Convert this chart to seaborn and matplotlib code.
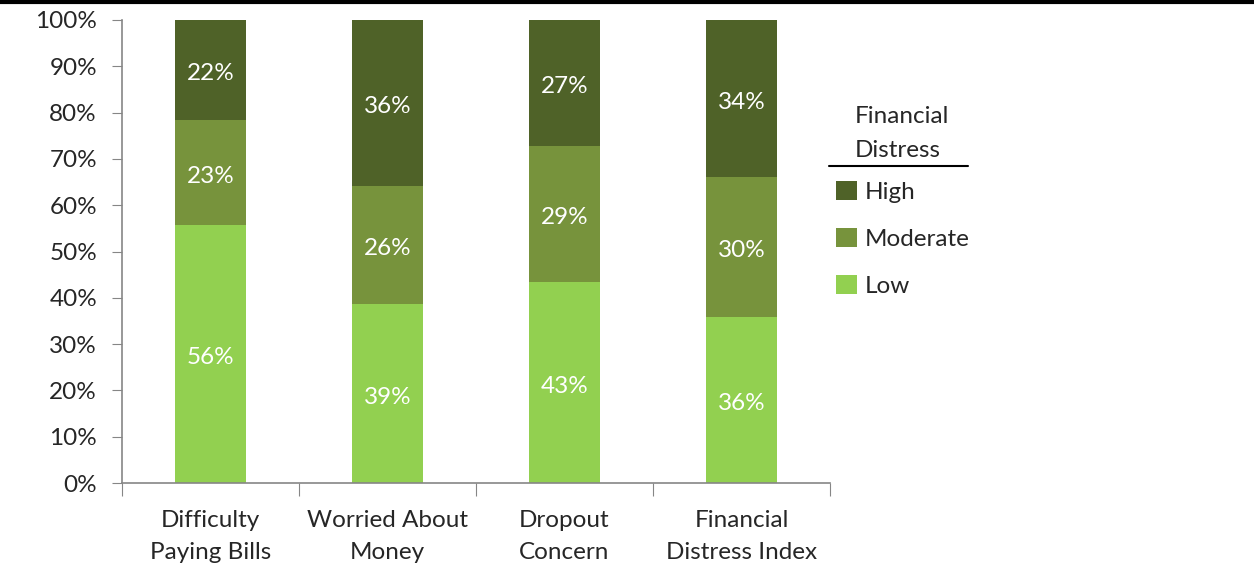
import matplotlib
matplotlib.use("Agg")
import matplotlib.pyplot as plt
from matplotlib.patches import Patch
from matplotlib.lines import Line2D
import seaborn as sns
import numpy as np
import pandas as pd

categories = ["Difficulty\nPaying Bills", "Worried About\nMoney", "Dropout\nConcern", "Financial\nDistress Index"]
low = [55.7, 38.6, 43.4, 35.8]
moderate = [22.6, 25.6, 29.3, 30.2]
high = [21.7, 35.8, 27.3, 34.0]
series_names = ["High", "Moderate", "Low"]
legend_title = "Financial\nDistress"
colors = {"Low": "#92D050", "Moderate": "#77933C", "High": "#4F6228"}
yticks = list(range(0, 101, 10))

sns.set_style("white")
plt.rcParams['font.family'] = ['Lato', 'DejaVu Sans']

fig = plt.figure(figsize=(12.54, 5.77), dpi=100)
ax = fig.add_axes([122/1254, 1-483/577, (830-122)/1254, (483-20)/577])

df = pd.DataFrame({"cat": categories, "Low": low, "Moderate": moderate, "High": high})
df["cum_mod"] = df["Low"] + df["Moderate"]
df["cum_high"] = df["cum_mod"] + df["High"]

sns.barplot(data=df, x="cat", y="cum_high", color=colors["High"], width=0.4, ax=ax, saturation=1, linewidth=0)
sns.barplot(data=df, x="cat", y="cum_mod", color=colors["Moderate"], width=0.4, ax=ax, saturation=1, linewidth=0)
sns.barplot(data=df, x="cat", y="Low", color=colors["Low"], width=0.4, ax=ax, saturation=1, linewidth=0)

fs = 17.5
for i in range(len(categories)):
    bases = [0, low[i], low[i] + moderate[i]]
    vals = [low[i], moderate[i], high[i]]
    for b, v in zip(bases, vals):
        ax.annotate(f"{round(v):.0f}%", (i, b + v/2), xytext=(0, -2.5), textcoords="offset points",
                    ha="center", va="center", color="white", fontsize=fs)

ax.set_ylim(0, 100)
ax.set_xlim(-0.5, len(categories) - 0.5)
ax.set_yticks(yticks)
ax.set_yticklabels([f"{t}%" for t in yticks], fontsize=fs)
ax.set_xticks(np.arange(-0.5, len(categories), 1.0))
ax.set_xticklabels([])
ax.set_xticks(np.arange(len(categories)), minor=True)
ax.set_xticklabels(categories, minor=True, fontsize=fs, linespacing=1.62)
ax.tick_params(axis="x", which="major", length=9, color="#868686", direction="out", bottom=True)
ax.tick_params(axis="x", which="minor", length=0, pad=19.5)
ax.tick_params(axis="y", length=7, color="#868686", direction="out", left=True, pad=11)
ax.set_xlabel("")
ax.set_ylabel("")
for s in ["top", "right"]:
    ax.spines[s].set_visible(False)
for s in ["left", "bottom"]:
    ax.spines[s].set_color("#868686")
    ax.spines[s].set_linewidth(1.2)

handles = [Patch(facecolor=colors[n], edgecolor="none") for n in series_names]
leg = ax.legend(handles, series_names, loc="upper left",
                bbox_to_anchor=(836/1254, 1-181/577), bbox_transform=fig.transFigure,
                frameon=False, fontsize=fs, handlelength=0.85, handleheight=0.85,
                handletextpad=0.35, labelspacing=1.02, borderaxespad=0, borderpad=0)
fig.text(855/1254, 1-133.5/577, legend_title, ha="left", va="center", fontsize=fs,
         linespacing=1.74, multialignment="left")
fig.add_artist(Line2D([829/1254, 968/1254], [1-166/577, 1-166/577], color="black", lw=1.5, transform=fig.transFigure))
fig.add_artist(Line2D([0, 1], [1-1.5/577, 1-1.5/577], color="black", lw=3, transform=fig.transFigure))

fig.savefig("out.png", dpi=100)
